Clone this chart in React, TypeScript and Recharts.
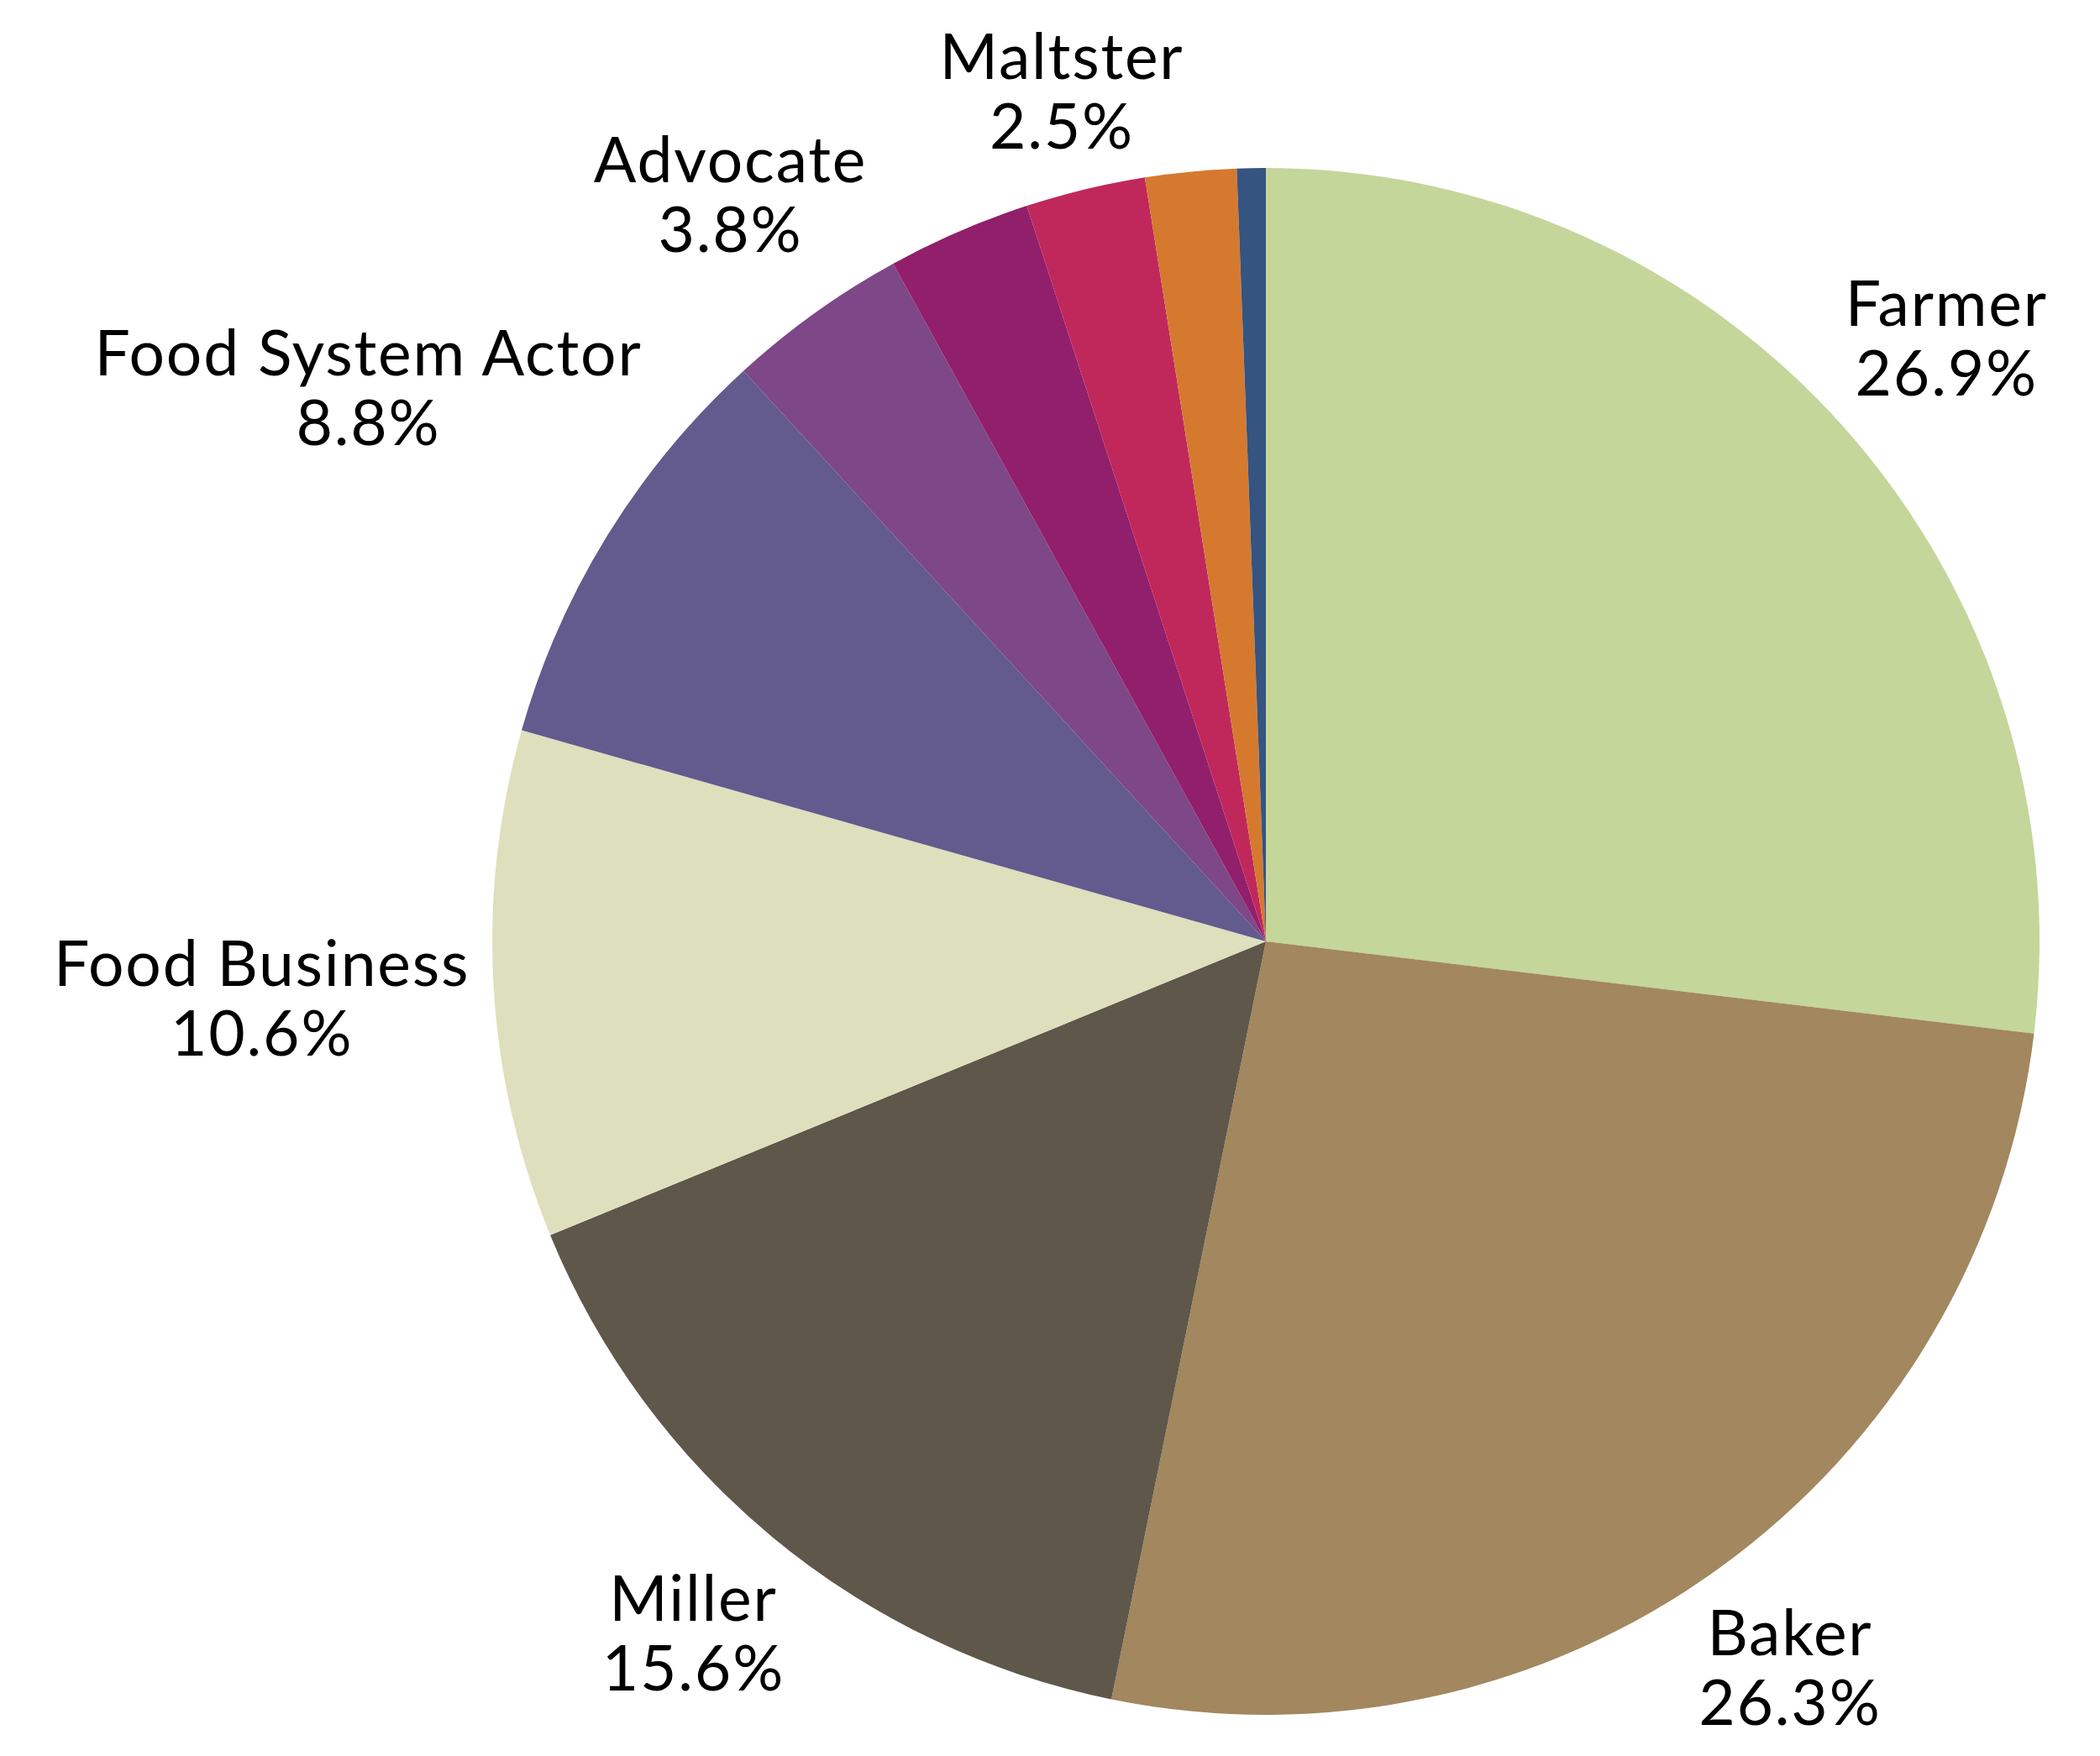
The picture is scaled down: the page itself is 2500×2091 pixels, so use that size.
import { PieChart, Pie, Cell } from "recharts";

// Categorias (as três fatias sem rótulo no original ficam com label vazio)
const categorias = [
  "Farmer",
  "Baker",
  "Miller",
  "Food Business",
  "Food System Actor",
  "Advocate",
  "Other A",
  "Maltster",
  "Other B",
  "Other C",
];

const percentuais = [26.9, 26.3, 15.6, 10.6, 8.8, 3.8, 3.0, 2.5, 1.9, 0.6];

const mostrarRotulo = [true, true, true, true, true, true, false, true, false, false];

const cores = [
  "#C4D69A", // verde claro
  "#A2875F", // marrom claro
  "#5E574A", // marrom escuro
  "#DEDFBD", // bege
  "#635A8E", // roxo azulado
  "#7E4788", // roxo
  "#921F6B", // magenta
  "#C0285C", // rosa
  "#D5792F", // laranja
  "#35547F", // azul
];

const dados = categorias.map((nome, i) => ({ nome, valor: percentuais[i] }));

const FONTE = "Lato";
const TAM_FONTE = 75;
const ESPACO_LETRAS = 1.8;
const ALTURA_CAP = 54;
const ENTRELINHA = 83;

let ctxMedida: CanvasRenderingContext2D | null = null;
function larguraTexto(txt: string): number {
  if (!ctxMedida) {
    ctxMedida = document.createElement("canvas").getContext("2d");
  }
  if (!ctxMedida) return txt.length * TAM_FONTE * 0.55;
  ctxMedida.font = `${TAM_FONTE}px ${FONTE}`;
  return ctxMedida.measureText(txt).width + ESPACO_LETRAS * (txt.length - 1);
}

// Empurra a caixa do rótulo ao longo do ângulo médio até o ponto mais próximo ficar a distância d
function posicaoRotulo(ux: number, uy: number, a: number, b: number, d: number) {
  const dist = (t: number) => {
    const px = Math.max(0, Math.abs(t * ux) - a);
    const py = Math.max(0, Math.abs(t * uy) - b);
    return Math.sqrt(px * px + py * py);
  };
  let lo = 0;
  let hi = d + a + b + 10;
  for (let k = 0; k < 60; k++) {
    const mid = (lo + hi) / 2;
    if (dist(mid) < d) lo = mid;
    else hi = mid;
  }
  return { x: lo * ux, y: lo * uy };
}

const RAD = Math.PI / 180;

function RotuloFatia(props: any) {
  const { cx, cy, midAngle, outerRadius, index } = props;
  if (!mostrarRotulo[index]) return null;
  const linha1 = categorias[index];
  const linha2 = `${percentuais[index].toFixed(1)}%`;
  const w = Math.max(larguraTexto(linha1), larguraTexto(linha2));
  const h = ALTURA_CAP + ENTRELINHA;
  const ux = Math.cos(-midAngle * RAD);
  const uy = Math.sin(-midAngle * RAD);
  const p = posicaoRotulo(ux, uy, w / 2, h / 2, outerRadius * 1.03);
  const x = cx + p.x;
  const y = cy + p.y;
  const base1 = y - h / 2 + ALTURA_CAP;
  return (
    <text
      textAnchor="middle"
      fontFamily={FONTE}
      fontSize={TAM_FONTE}
      letterSpacing={ESPACO_LETRAS}
      fill="#000"
    >
      <tspan x={x} y={base1}>{linha1}</tspan>
      <tspan x={x} y={base1 + ENTRELINHA}>{linha2}</tspan>
    </text>
  );
}

export default function App() {
  return (
    <div style={{ position: "absolute", left: 0, top: 0, background: "#fff" }}>
      <PieChart width={2500} height={2091}>
        <Pie
          data={dados}
          dataKey="valor"
          nameKey="nome"
          cx={1502}
          cy={1116}
          outerRadius={921}
          startAngle={90}
          endAngle={-270}
          stroke="none"
          labelLine={false}
          label={RotuloFatia}
          isAnimationActive={false}
        >
          {dados.map((_, i) => (
            <Cell key={`cell-${i}`} fill={cores[i]} />
          ))}
        </Pie>
      </PieChart>
    </div>
  );
}
